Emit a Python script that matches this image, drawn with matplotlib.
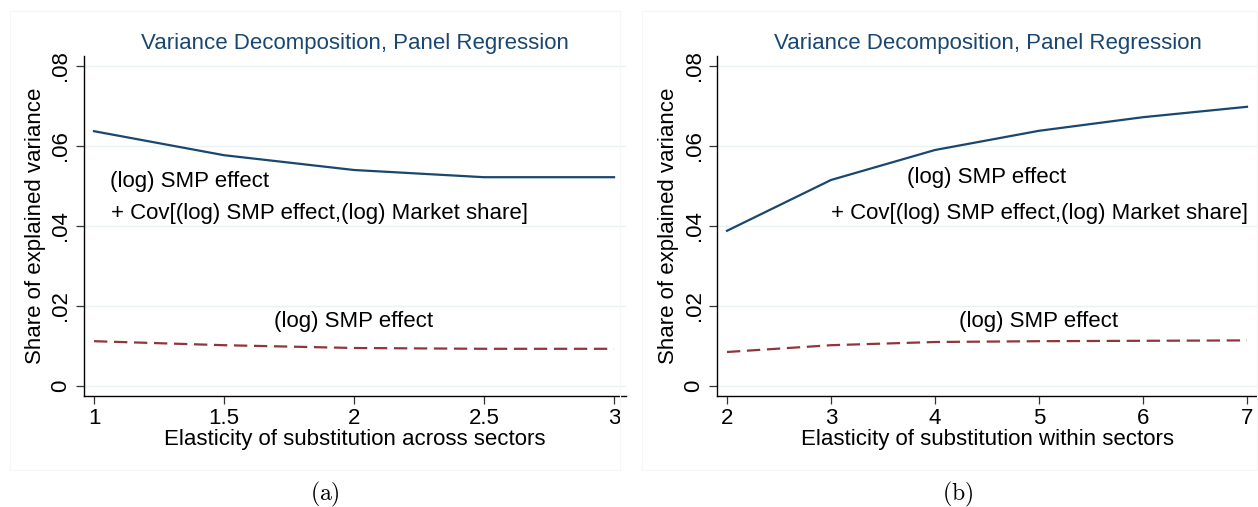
""" Variance decomposition panels (a) and (b). """

import matplotlib.pyplot as plt
from matplotlib.patches import Rectangle

plt.rcParams['font.family'] = ['Liberation Sans', 'DejaVu Sans']
plt.rcParams['mathtext.fontset'] = 'cm'

NAVY = '#1a476f'
MAROON = '#90353b'
GRID = '#eaf2f3'

# Panel (a): elasticity across sectors
across_x = [1, 1.5, 2, 2.5, 3]
across_total = [0.0637, 0.0577, 0.0540, 0.0522, 0.0522]
across_smp = [0.0112, 0.0102, 0.0095, 0.0093, 0.0093]

# Panel (b): elasticity within sectors
within_x = [2, 3, 4, 5, 6, 7]
within_total = [0.0388, 0.0515, 0.0590, 0.0638, 0.0672, 0.0698]
within_smp = [0.0085, 0.0102, 0.0110, 0.0112, 0.0113, 0.0114]

y_ticks = [0, 0.02, 0.04, 0.06, 0.08]
y_tick_labels = ['0', '.02', '.04', '.06', '.08']
across_tick_labels = ['1', '1.5', '2', '2.5', '3']
within_tick_labels = ['2', '3', '4', '5', '6', '7']

title = 'Variance Decomposition, Panel Regression'
ylabel = 'Share of explained variance'
label_total_1 = '(log) SMP effect'
label_total_2 = '+ Cov[(log) SMP effect,(log) Market share]'
label_smp = '(log) SMP effect'

fig = plt.figure(figsize=(12.58, 5.07), dpi=100)

# faint panel frames
for x0, w in [(10 / 1258, 610 / 1258), (642 / 1258, 615 / 1258)]:
    fig.patches.append(Rectangle((x0, 1 - 470 / 507), w, 459 / 507,
                                 transform=fig.transFigure, fill=False,
                                 edgecolor='#f6f6f6', linewidth=0.8))

ax1 = fig.add_axes([84 / 1258, 1 - 396 / 507, 542 / 1258, 340 / 507])
ax2 = fig.add_axes([717 / 1258, 1 - 396 / 507, 541 / 1258, 340 / 507])


def style(ax, xs, xlabels, xlim, xlabel):
    ax.set_ylim(-0.0025, 0.0825)
    ax.set_xlim(*xlim)
    ax.set_yticks(y_ticks)
    ax.set_yticklabels(y_tick_labels, rotation=90, va='center', fontsize=16)
    ax.set_xticks(xs)
    ax.set_xticklabels(xlabels, fontsize=16)
    ax.tick_params(axis='both', length=6, width=0.9, color='#333333', pad=3)
    ax.set_xlabel(xlabel, fontsize=16, labelpad=0)
    ax.set_ylabel(ylabel, fontsize=16, labelpad=3)
    ax.set_title(title, color=NAVY, fontsize=16, pad=5)
    ax.spines['top'].set_visible(False)
    ax.spines['right'].set_visible(False)
    for s in ['left', 'bottom']:
        ax.spines[s].set_linewidth(1.0)
    for y in y_ticks:
        ax.axhline(y, color=GRID, linewidth=1.0, zorder=0)


ax1.plot(across_x, across_total, color=NAVY, linewidth=1.6)
ax1.plot(across_x, across_smp, color=MAROON, linewidth=1.6, dashes=(6, 3))
style(ax1, across_x, across_tick_labels, (0.9615, 3.046),
      'Elasticity of substitution across sectors')
ax1.text(1.06, 0.0512, label_total_1, fontsize=16, va='center', ha='left')
ax1.text(1.065, 0.0430, label_total_2, fontsize=16, va='center', ha='left')
ax1.text(2.0, 0.0160, label_smp, fontsize=16, va='center', ha='center')

ax2.plot(within_x, within_total, color=NAVY, linewidth=1.6)
ax2.plot(within_x, within_smp, color=MAROON, linewidth=1.6, dashes=(6, 3))
style(ax2, within_x, within_tick_labels, (1.904, 7.106),
      'Elasticity of substitution within sectors')
ax2.text(4.5, 0.0520, label_total_1, fontsize=16, va='center', ha='center')
ax2.text(3.0, 0.04325, label_total_2, fontsize=16, va='center', ha='left')
ax2.text(5.0, 0.0160, label_smp, fontsize=16, va='center', ha='center')

fig.text(325 / 1258, 1 - 494 / 507, r'$\mathrm{(a)}$', fontsize=17,
         ha='center', va='center')
fig.text(958 / 1258, 1 - 494 / 507, r'$\mathrm{(b)}$', fontsize=17,
         ha='center', va='center')

fig.savefig('out.png', dpi=100, facecolor='white')
